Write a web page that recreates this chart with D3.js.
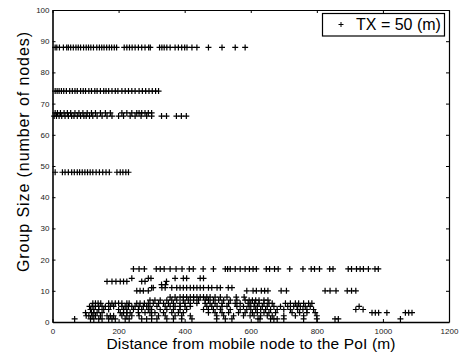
<!DOCTYPE html>
<html>
<head>
<meta charset="utf-8">
<script src="https://cdn.jsdelivr.net/npm/d3@7"></script>
<style>
  body { margin: 0; background: #fff; }
  text { font-family: "Liberation Sans", Arial, Helvetica, sans-serif; }
</style>
</head>
<body>
<div id="chart"></div>
<script>
const width = 462;
const height = 356;

const xTicks = [0, 200, 400, 600, 800, 1000, 1200];
const yTicks = [0, 10, 20, 30, 40, 50, 60, 70, 80, 90, 100];

// distances (m), one list per group size
const dist88 = [8, 13, 21, 33, 43, 48, 55, 63, 71, 78, 85, 94, 102, 109, 116, 124, 134, 142, 149, 156, 164, 172, 179, 187, 194, 217, 225, 233, 241, 250, 260, 270, 280, 291, 296, 324, 331, 338, 346, 356, 371, 381, 391, 400, 407, 422, 437, 472, 513, 553, 583];
const dist74 = [8, 14, 20, 27, 34, 42, 52, 60, 68, 75, 85, 93, 100, 110, 118, 128, 135, 145, 155, 162, 170, 180, 190, 198, 210, 220, 230, 240, 250, 262, 272, 282, 292, 302, 312, 321];
const dist67 = [8, 15, 24, 35, 45, 55, 68, 80, 92, 105, 118, 130, 145, 160, 175, 210, 225, 240, 255, 262, 270, 280, 290, 300];
const dist66 = [5, 12, 20, 28, 38, 48, 58, 65, 75, 85, 95, 102, 112, 122, 135, 150, 165, 180, 200, 215, 235, 250, 268, 285, 300, 330, 345, 375, 390, 405];
const dist48 = [8, 30, 38, 48, 58, 66, 75, 82, 90, 98, 106, 114, 122, 132, 142, 152, 162, 172, 195, 205, 213, 222, 230];
const dist17 = [245, 262, 278, 314, 326, 338, 356, 374, 392, 414, 426, 456, 487, 523, 530, 538, 553, 568, 583, 596, 607, 617, 647, 657, 672, 683, 718, 758, 783, 793, 808, 839, 849, 895, 905, 920, 931, 941, 956, 976, 986];
const dist14 = [240, 290, 298, 371, 396, 406, 447, 457];
const dist13 = [165, 180, 192, 205, 215, 225, 270, 280, 345];
const dist12 = [330, 342];
const dist11 = [300, 305, 331, 341, 361, 376, 386, 396, 406, 417, 427, 437, 447, 457, 472, 482, 498, 508, 532, 543];
const dist10 = [255, 265, 275, 290, 588, 607, 617, 632, 642, 652, 692, 708, 825, 840, 858, 892, 905, 918];
const dist8 = [356, 371, 386, 396, 406, 417, 427, 437, 447, 457, 467, 477, 492, 508, 528, 556, 580];
const dist7 = [295, 310, 326, 346, 361, 376, 396, 411, 427, 442, 462, 472, 487, 503, 518, 538, 558, 583, 595, 605, 615, 625, 640, 652];
const dist6 = [122, 130, 138, 146, 170, 180, 190, 200, 210, 225, 232, 255, 265, 278, 290, 305, 321, 336, 351, 366, 386, 401, 417, 437, 462, 477, 492, 513, 533, 553, 568, 592, 600, 612, 625, 640, 655, 665, 705, 720, 735, 745, 760, 775, 785];
const dist5 = [112, 120, 130, 140, 150, 160, 175, 185, 210, 220, 230, 240, 250, 262, 275, 285, 295, 316, 341, 356, 371, 386, 401, 417, 467, 482, 498, 513, 528, 558, 578, 595, 610, 620, 635, 650, 670, 690, 712, 730, 740, 750, 765, 780, 928];
const dist4 = [115, 125, 140, 155, 170, 200, 215, 225, 245, 260, 270, 290, 300, 326, 346, 366, 386, 406, 457, 472, 487, 508, 538, 568, 588, 600, 615, 630, 645, 660, 680, 700, 720, 742, 758, 770, 790, 918, 940];
const dist3 = [100, 118, 125, 135, 150, 205, 215, 225, 235, 260, 280, 295, 310, 336, 361, 381, 396, 472, 492, 513, 533, 563, 583, 605, 620, 640, 655, 675, 725, 748, 770, 795, 967, 977, 987, 1012, 1068, 1078, 1088];
const dist2 = [102, 110, 120, 130, 145, 165, 175, 185, 210, 225, 240, 262, 300, 321, 341, 371, 391, 417, 497, 518, 548, 578, 598, 610, 630, 650, 665, 700, 735, 760, 800];
const dist1 = [67, 115, 125, 140, 150, 170, 180, 190, 220, 232, 270, 285, 300, 316, 346, 366, 391, 422, 497, 523, 543, 622, 628, 660, 670, 680, 700, 760, 800, 855, 865, 1053];

const groups = [
    [88, dist88], [74, dist74], [67, dist67], [66, dist66], [48, dist48],
    [17, dist17], [14, dist14], [13, dist13], [12, dist12], [11, dist11], [10, dist10],
    [8, dist8], [7, dist7], [6, dist6], [5, dist5], [4, dist4], [3, dist3], [2, dist2], [1, dist1]
];

const points = [];
groups.forEach(function (g) {
    g[1].forEach(function (d) { points.push({ x: d, y: g[0] }); });
});

const plotLeft = 52.5, plotRight = 449, plotTop = 10, plotBottom = 322;

const x = d3.scaleLinear().domain([0, 1200]).range([plotLeft, plotRight]);
const y = d3.scaleLinear().domain([0, 100]).range([plotBottom, plotTop]);

const svg = d3.select("#chart")
    .append("svg")
    .attr("width", width)
    .attr("height", height);

const plus = "M-3,0H3M0,-3V3";

// points
svg.append("g")
    .selectAll("path")
    .data(points)
    .enter()
    .append("path")
    .attr("d", plus)
    .attr("transform", d => "translate(" + x(d.x) + "," + y(d.y) + ")")
    .attr("stroke", "#000")
    .attr("stroke-width", 1.2)
    .attr("fill", "none");

// axes, matlab style with inner ticks on all four sides
const xAxis = svg.append("g")
    .attr("transform", "translate(0," + plotBottom + ")")
    .call(d3.axisBottom(x).tickValues(xTicks).tickFormat(d3.format("d"))
        .tickSize(-3).tickSizeOuter(0).tickPadding(6));

const yAxis = svg.append("g")
    .attr("transform", "translate(" + plotLeft + ",0)")
    .call(d3.axisLeft(y).tickValues(yTicks).tickFormat(d3.format("d"))
        .tickSize(-3).tickSizeOuter(0).tickPadding(3));

const topAxis = svg.append("g")
    .attr("transform", "translate(0," + plotTop + ")")
    .call(d3.axisTop(x).tickValues(xTicks).tickSize(-3).tickSizeOuter(0).tickFormat(""));

const rightAxis = svg.append("g")
    .attr("transform", "translate(" + plotRight + ",0)")
    .call(d3.axisRight(y).tickValues(yTicks).tickSize(-3).tickSizeOuter(0).tickFormat(""));

[xAxis, yAxis].forEach(function (a) {
    a.attr("font-size", 8).attr("font-family", null);
    a.select(".domain").attr("stroke-width", 1.6);
    a.selectAll("text").attr("fill", "#222");
});
[topAxis, rightAxis].forEach(function (a) {
    a.select(".domain").attr("stroke-width", 1.2);
});

// legend
svg.append("rect")
    .attr("x", 322.5).attr("y", 13.5)
    .attr("width", 122).attr("height", 22.5)
    .attr("fill", "#fff").attr("stroke", "#000").attr("stroke-width", 1.2);

svg.append("path")
    .attr("d", "M-2.5,0H2.5M0,-2.5V2.5")
    .attr("transform", "translate(341,24.5)")
    .attr("stroke", "#000").attr("fill", "none");

svg.append("text")
    .attr("x", 356).attr("y", 30)
    .attr("font-size", 16)
    .text("TX = 50 (m)");

// axis titles
svg.append("text")
    .attr("x", 251).attr("y", 348.5)
    .attr("text-anchor", "middle")
    .attr("font-size", 15.5)
    .attr("textLength", 289)
    .attr("lengthAdjust", "spacing")
    .text("Distance from mobile node to the PoI (m)");

svg.append("text")
    .attr("transform", "translate(29,152) rotate(-90)")
    .attr("text-anchor", "middle")
    .attr("font-size", 16)
    .attr("textLength", 240)
    .attr("lengthAdjust", "spacing")
    .text("Group Size (number of nodes)");
</script>
</body>
</html>
